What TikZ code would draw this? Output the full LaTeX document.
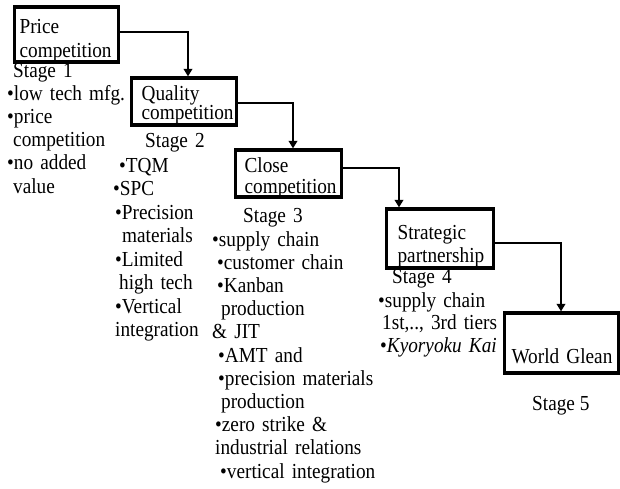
\documentclass[tikz,border=0pt]{standalone}
\usepackage{fontspec}
\setmainfont{Liberation Serif}[FakeStretch=0.9]
\usepackage{tikz}
\usetikzlibrary{arrows.meta}
\newcommand{\txt}[1]{\fontsize{21.4pt}{#1}\selectfont}

\begin{document}
\begin{tikzpicture}[x=1pt,y=-1pt,>={Triangle[width=8.5pt,length=7.5pt]},
    every node/.style={inner sep=0pt,anchor=base west,align=left},
    stagebox/.style={draw,line width=3.2pt,inner ysep=0pt}]
  \useasboundingbox (0,0) rectangle (620,488);
  \node[stagebox,inner xsep=5pt,text width=94pt,text height=26pt,text depth=29pt,font=\txt{24pt}] (price) at (13,33)
    {Price\\competition};
  \node[stagebox,inner xsep=10pt,text width=85pt,text height=22pt,text depth=25pt,font=\txt{19.5pt}] (quality) at (130,100)
    {Quality\\competition};
  \node[stagebox,inner xsep=9pt,text width=88pt,text height=22pt,text depth=25pt,font=\txt{21pt}] (close) at (234,172)
    {Close\\competition};
  \node[stagebox,inner xsep=11pt,text width=85pt,text height=30pt,text depth=29pt,font=\txt{23pt}] (partner) at (385,239)
    {Strategic\\partnership};
  \node[stagebox,inner xsep=7pt,text width=100pt,text height=50pt,text depth=10pt,font=\txt{23pt}] (world) at (503,363)
    {World~Glean};
  \node[text width=150pt,font=\txt{23.2pt}] (stage1) at (7,77)
    {\hspace*{6pt}Stage 1\\
     \textbullet low tech mfg.\\
     \textbullet price\\
     \hspace*{6pt}competition\\
     \textbullet no added\\
     \hspace*{6pt}value};
  \node[text width=150pt,font=\txt{23.5pt}] (stage2) at (113,147)
    {\hspace*{32pt}Stage 2\\[1.5pt]
     \hspace*{6pt}\textbullet TQM\\
     \textbullet SPC\\
     \hspace*{2pt}\textbullet Precision\\
     \hspace*{9pt}materials\\
     \hspace*{2pt}\textbullet Limited\\
     \hspace*{6pt}high tech\\
     \hspace*{2pt}\textbullet Vertical\\
     \hspace*{2pt}integration};
  \node[text width=200pt,font=\txt{23.2pt}] (stage3) at (212,222)
    {\hspace*{31pt}Stage 3\\[0.8pt]
     \textbullet supply chain\\
     \hspace*{5pt}\textbullet customer chain\\
     \hspace*{5pt}\textbullet Kanban\\
     \hspace*{9pt}production\\
     \& JIT\\
     \hspace*{6pt}\textbullet AMT and\\
     \hspace*{6pt}\textbullet precision materials\\
     \hspace*{9pt}production\\
     \hspace*{3pt}\textbullet zero strike \&\\
     \hspace*{3pt}industrial relations\\
     \hspace*{8pt}\textbullet vertical integration};
  \node[text width=150pt,font=\txt{22.5pt}] (stage4) at (378,283)
    {\hspace*{14pt}Stage 4\\[1.5pt]
     \textbullet supply chain\\
     \hspace*{4pt}1st,.., 3rd tiers\\
     \hspace*{2pt}\textbullet \textit{Kyoryoku Kai}};
  \node[font=\txt{23pt}] (stage5) at (532,410) {Stage 5};
  % stage to stage
  \draw[->,line width=2.6pt] ([yshift=2.5pt]price.east) -| ([xshift=58pt]quality.north west);
  \draw[->,line width=2.6pt] ([yshift=-1.5pt]quality.east) -| ([xshift=59pt]close.north west);
  \draw[->,line width=2.6pt] ([yshift=5.5pt]close.east) -| ([xshift=14pt]partner.north west);
  \draw[->,line width=2.6pt] ([yshift=-4.5pt]partner.east) -| ([xshift=58pt]world.north west);
\end{tikzpicture}
\end{document}
